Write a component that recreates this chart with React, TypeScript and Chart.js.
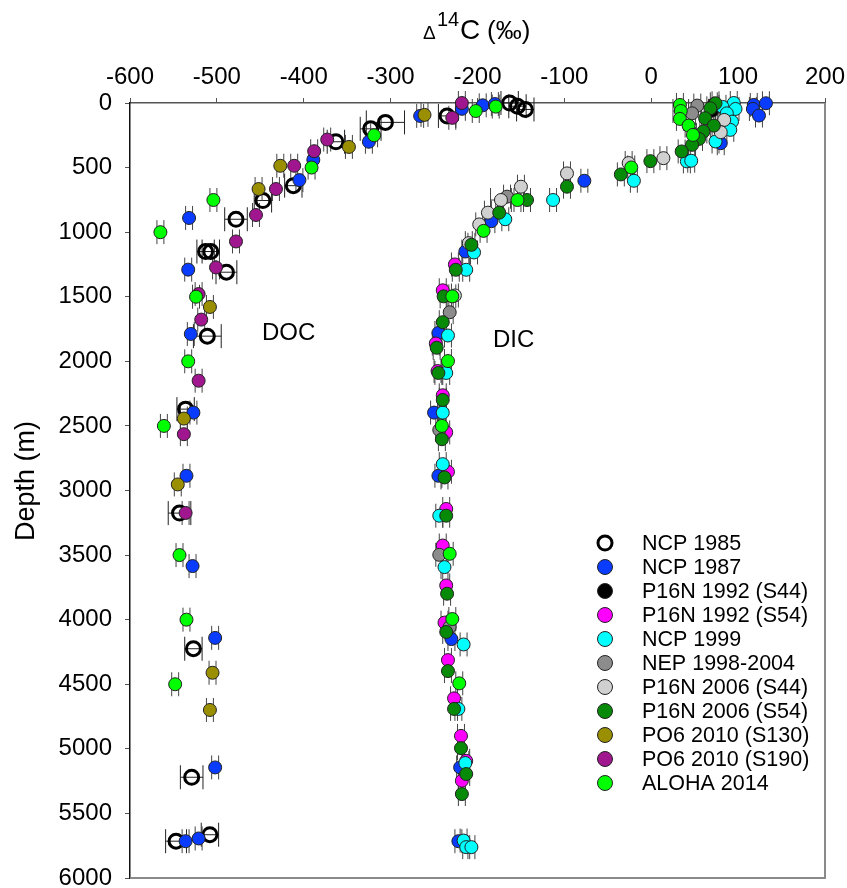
import React, { useEffect, useRef } from "react";
import { Chart, registerables } from "chart.js";

Chart.register(...registerables);

// ---- Data: [Δ14C (‰), depth (m), error half-width (‰)] ----
const NCP_1985: number[][] = [
  [-163, 0, 10], [-154, 25, 10], [-145, 50, 10], [-235, 100, 10],
  [-306, 150, 22], [-323, 200, 12], [-363, 300, 10], [-412, 640, 10],
  [-447, 755, 10], [-478, 900, 13], [-513, 1150, 10], [-507, 1150, 10],
  [-489, 1310, 12], [-511, 1805, 16], [-536, 2370, 10], [-543, 3175, 13],
  [-527, 4225, 10], [-529, 5220, 13], [-508, 5665, 10], [-547, 5715, 12],
];
const NCP_1987: number[][] = [
  [-266, 100, 4], [-218, 45, 4], [-194, 18, 4], [-180, 8, 4], [-325, 300, 4],
  [-389, 440, 4], [-405, 597, 4], [-532, 890, 4], [-533, 1290, 4], [-530, 1788, 4],
  [-527, 2397, 4], [-535, 2886, 4], [-528, 3585, 4], [-502, 4141, 4], [-502, 5144, 4],
  [-521, 5694, 4], [-536, 5715, 4],
  [118, 15, 4], [132, 2, 4], [117, 46, 4], [124, 97, 4], [80, 311, 4], [-77, 602, 4],
  [-184, 915, 4], [-214, 1150, 4], [-245, 1780, 4], [-250, 2397, 4], [-245, 2886, 4],
  [-230, 4150, 4], [-220, 5144, 4], [-222, 5715, 4],
];
const P16N_1992_S44: number[][] = [
  [72, 10, 4], [70, 60, 4],
];
const P16N_1992_S54: number[][] = [
  [-226, 1250, 4], [-240, 1450, 4], [-248, 1862, 4], [-246, 2075, 4], [-240, 2263, 4],
  [-236, 2550, 4], [-234, 2855, 4], [-236, 3143, 4], [-240, 3426, 4], [-236, 3735, 4],
  [-238, 4023, 4], [-234, 4313, 4], [-227, 4609, 4], [-219, 4900, 4], [-213, 5093, 4],
  [-218, 5247, 4],
];
const NCP_1999: number[][] = [
  [95, 0, 4], [82, 30, 4], [97, 46, 4], [87, 80, 4], [93, 144, 4], [91, 208, 4],
  [74, 298, 4], [41, 452, 4], [46, 447, 4], [-20, 602, 4], [-113, 751, 4],
  [-168, 900, 4], [-204, 1157, 4], [-213, 1291, 4], [-234, 1800, 4], [-236, 2090, 4],
  [-240, 2397, 4], [-240, 2796, 4], [-244, 3195, 4], [-238, 3593, 4], [-216, 4192, 4],
  [-222, 4691, 4], [-214, 5110, 4], [-216, 5710, 4], [-213, 5761, 4], [-207, 5761, 4],
];
const NEP_1998_2004: number[][] = [
  [53, 20, 4], [47, 80, 4], [-166, 725, 4], [-232, 1620, 4], [-244, 2531, 4],
  [-244, 3498, 4], [-232, 4056, 4],
];
const P16N_2006_S44: number[][] = [
  [84, 131, 4], [80, 226, 4], [14, 427, 4], [-26, 465, 4], [-97, 545, 4],
  [-150, 648, 4], [-173, 751, 12], [-188, 849, 4], [-198, 940, 4], [-210, 1085, 4],
  [-226, 1490, 4],
];
const P16N_2006_S54: number[][] = [
  [74, 2, 4], [68, 41, 4], [62, 118, 4], [72, 175, 4], [60, 221, 4], [55, 278, 4],
  [47, 324, 4], [35, 375, 4], [-1, 450, 4], [-35, 553, 4], [-97, 648, 4],
  [-143, 751, 4], [-175, 849, 4], [-207, 1098, 4], [-225, 1291, 4], [-239, 1497, 4],
  [-240, 1697, 4], [-247, 1895, 4], [-245, 2090, 4], [-240, 2299, 4], [-241, 2603, 4],
  [-238, 2899, 4], [-236, 3195, 4], [-235, 3799, 4], [-236, 4095, 4], [-234, 4398, 4],
  [-227, 4691, 4], [-219, 4995, 4], [-213, 5195, 4], [-218, 5350, 4],
];
const PO6_2010_S130: number[][] = [
  [-261, 92, 4], [-348, 340, 4], [-427, 486, 4], [-452, 666, 4], [-508, 1579, 4],
  [-538, 2443, 4], [-545, 2953, 4], [-505, 4411, 4], [-508, 4699, 4],
];
const PO6_2010_S190: number[][] = [
  [-218, 0, 4], [-229, 115, 4], [-373, 283, 4], [-388, 373, 4], [-411, 486, 4],
  [-432, 666, 4], [-455, 867, 4], [-478, 1072, 4], [-501, 1273, 4], [-521, 1479, 4],
  [-518, 1677, 4], [-521, 2150, 4], [-538, 2564, 4], [-536, 3174, 4],
];
const ALOHA_2014: number[][] = [
  [-202, 62, 4], [-179, 28, 4], [-319, 250, 4], [-391, 500, 4], [-504, 751, 4],
  [-565, 1000, 4], [-524, 1500, 4], [-533, 2000, 4], [-561, 2500, 4], [-543, 3500, 4],
  [-535, 4000, 4], [-548, 4500, 4],
  [33, 15, 4], [34, 62, 9], [33, 123, 4], [43, 175, 4], [48, 247, 4], [-23, 499, 4],
  [-154, 751, 4], [-193, 990, 4], [-229, 1497, 4], [-234, 1998, 4], [-241, 2500, 4],
  [-232, 3490, 4], [-229, 3995, 4], [-221, 4493, 4],
];

const SERIES_NAMES = [
  "NCP 1985", "NCP 1987", "P16N 1992 (S44)", "P16N 1992 (S54)", "NCP 1999",
  "NEP 1998-2004", "P16N 2006 (S44)", "P16N 2006 (S54)", "PO6 2010 (S130)",
  "PO6 2010 (S190)", "ALOHA 2014",
];
const SERIES_DATA = [
  NCP_1985, NCP_1987, P16N_1992_S44, P16N_1992_S54, NCP_1999, NEP_1998_2004,
  P16N_2006_S44, P16N_2006_S54, PO6_2010_S130, PO6_2010_S190, ALOHA_2014,
];
const SERIES_COLORS = [
  "rgba(0,0,0,0)", "#0a3cff", "#000000", "#ff00ff", "#00ffff", "#8c8c8c",
  "#d0d0d0", "#078a07", "#9a8f00", "#a0168e", "#00ff00",
];

const X_MIN = -600, X_MAX = 200, X_STEP = 100;
const Y_MIN = 0, Y_MAX = 6000, Y_STEP = 500;

const FONT = "'Liberation Sans', Arial, sans-serif";

const decorPlugin = {
  id: "decor",
  beforeDatasetsDraw(chart: any) {
    const ctx = chart.ctx;
    const xs = chart.scales.x, ys = chart.scales.y;
    ctx.save();
    chart.data.datasets.forEach((ds: any, di: number) => {
      const open = di === 0;
      ctx.strokeStyle = open ? "#222" : "#444";
      ctx.lineWidth = 1;
      ds.data.forEach((p: any) => {
        const py = ys.getPixelForValue(p.y);
        const l = xs.getPixelForValue(p.x - p.e);
        const r = xs.getPixelForValue(p.x + p.e);
        ctx.beginPath();
        ctx.moveTo(l, py); ctx.lineTo(r, py);
        ctx.moveTo(l, py - 12); ctx.lineTo(l, py + 12);
        ctx.moveTo(r, py - 12); ctx.lineTo(r, py + 12);
        ctx.stroke();
      });
    });
    ctx.restore();
  },
  afterDraw(chart: any) {
    const ctx = chart.ctx;
    const a = chart.chartArea;
    ctx.save();
    // right & bottom frame
    ctx.strokeStyle = "#8a8a8a";
    ctx.lineWidth = 2;
    ctx.beginPath();
    ctx.moveTo(a.right, a.top);
    ctx.lineTo(a.right, a.bottom);
    ctx.lineTo(a.left, a.bottom);
    ctx.stroke();

    ctx.fillStyle = "#000";
    ctx.textAlign = "left";
    ctx.textBaseline = "alphabetic";
    // title Δ14C (‰)
    ctx.font = `19px ${FONT}`;
    ctx.fillText("Δ", 423, 39);
    ctx.font = `20px ${FONT}`;
    ctx.fillText("14", 437, 26);
    ctx.font = `28px ${FONT}`;
    ctx.fillText("C", 460, 39);
    ctx.font = `26px ${FONT}`;
    ctx.fillText("(‰)", 487, 39);

    // y title
    ctx.save();
    ctx.translate(34, 481);
    ctx.rotate(-Math.PI / 2);
    ctx.textAlign = "center";
    ctx.font = `27px ${FONT}`;
    ctx.fillText("Depth (m)", 0, 0);
    ctx.restore();

    // DOC / DIC labels
    ctx.font = `24px ${FONT}`;
    ctx.fillText("DOC", 262, 340);
    ctx.fillText("DIC", 493, 347);

    // legend
    ctx.font = `21.5px ${FONT}`;
    ctx.textBaseline = "middle";
    SERIES_NAMES.forEach((name, i) => {
      const cy = 543 + i * 24;
      ctx.beginPath();
      ctx.arc(605, cy, i === 0 ? 7 : 7.5, 0, Math.PI * 2);
      ctx.fillStyle = i === 0 ? "#fff" : SERIES_COLORS[i];
      ctx.fill();
      ctx.lineWidth = i === 0 ? 3 : 1;
      ctx.strokeStyle = i === 0 ? "#000" : "#222";
      ctx.stroke();
      ctx.fillStyle = "#000";
      ctx.fillText(name, 642, cy + 1);
    });
    ctx.restore();
  },
};

export default function App() {
  const ref = useRef<HTMLCanvasElement | null>(null);
  useEffect(() => {
    document.body.style.margin = "0";
    const canvas = ref.current!;
    const datasets = SERIES_DATA.map((arr, i) => ({
      label: SERIES_NAMES[i],
      data: arr.map((p) => ({ x: p[0], y: p[1], e: p[2] })),
      backgroundColor: SERIES_COLORS[i],
      borderColor: i === 0 ? "#000" : "#222",
      pointBorderWidth: i === 0 ? 3 : 1,
      pointRadius: i === 0 ? 7 : 6.5,
      pointHoverRadius: i === 0 ? 7 : 6.5,
      showLine: false,
      clip: false as any,
      order: SERIES_NAMES.length - i,
    }));
    const chart = new Chart(canvas, {
      type: "scatter",
      data: { datasets },
      options: {
        responsive: false,
        animation: false,
        devicePixelRatio: 1,
        layout: { padding: { left: 0, top: 0, right: 22, bottom: 8 } },
        plugins: { legend: { display: false }, tooltip: { enabled: false } },
        events: [],
        scales: {
          x: {
            type: "linear",
            position: "top",
            min: X_MIN,
            max: X_MAX,
            afterFit: (s: any) => {
              s.height = 103;
              s.paddingLeft = 0; s.paddingRight = 0;
            },
            ticks: {
              stepSize: X_STEP,
              color: "#000",
              font: { family: FONT, size: 24 },
              padding: 6,
              maxRotation: 0,
              autoSkip: false,
              callback: (v: any) => String(v),
            },
            grid: { drawOnChartArea: false, drawTicks: true, tickLength: 5, color: "#555", lineWidth: 1 },
            border: { display: true, color: "#555", width: 1.5 },
          },
          y: {
            type: "linear",
            reverse: true,
            min: Y_MIN,
            max: Y_MAX,
            afterFit: (s: any) => {
              s.width = 130;
              s.paddingTop = 0; s.paddingBottom = 0;
            },
            ticks: {
              stepSize: Y_STEP,
              color: "#000",
              font: { family: FONT, size: 24 },
              padding: 13,
              autoSkip: false,
              callback: (v: any) => String(v),
            },
            grid: { drawOnChartArea: false, drawTicks: true, tickLength: 5, color: "#555", lineWidth: 1 },
            border: { display: true, color: "#111", width: 1.5 },
          },
        },
      },
      plugins: [decorPlugin],
    });
    return () => chart.destroy();
  }, []);
  return (
    <div style={{ position: "absolute", left: 0, top: 0, width: 847, height: 888 }}>
      <canvas ref={ref} width={847} height={888} style={{ display: "block" }} />
    </div>
  );
}
